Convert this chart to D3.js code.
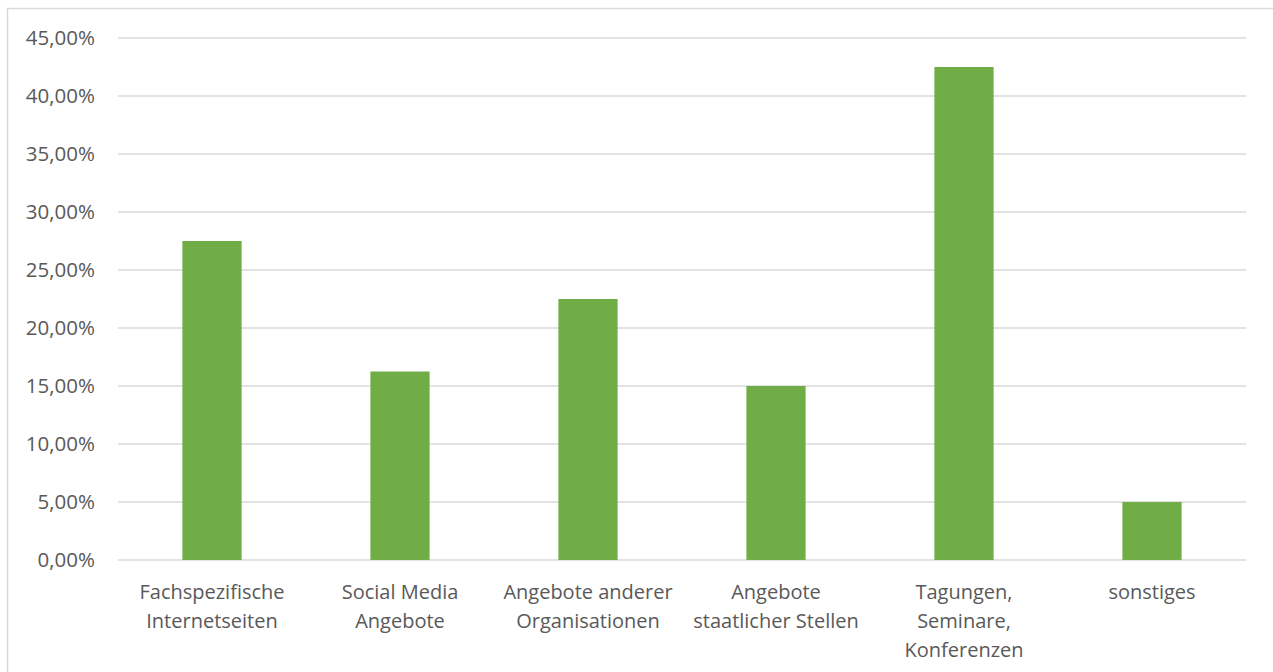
<!DOCTYPE html>
<html><head><meta charset="utf-8">
<script src="https://cdn.jsdelivr.net/npm/d3@7"></script>
<style>
html,body{margin:0;padding:0;background:#fff;}
svg{display:block;}
text{font-family:"Open Sans","Noto Sans",sans-serif;fill:#595959;}
</style></head>
<body><svg id="c" width="1273" height="672"></svg>
<script>
const categories = [
  "Fachspezifische\nInternetseiten",
  "Social Media\nAngebote",
  "Angebote anderer\nOrganisationen",
  "Angebote\nstaatlicher Stellen",
  "Tagungen,\nSeminare,\nKonferenzen",
  "sonstiges"
];
const values = [0.275, 0.1625, 0.225, 0.15, 0.425, 0.05];
const yTicks = [0, 0.05, 0.10, 0.15, 0.20, 0.25, 0.30, 0.35, 0.40, 0.45];

const svg = d3.select("#c");
const W = 1273, H = 672;
const m = {left:118, right:27, top:38, bottom:112};

svg.append("rect").attr("x",7.5).attr("y",8.5).attr("width",W).attr("height",H)
  .attr("fill","#fff").attr("stroke","#d9d9d9").attr("stroke-width",1.5);

const x = d3.scaleBand().domain(categories).range([m.left, W - m.right]).paddingInner(0.685).paddingOuter(0.3425);
const y = d3.scaleLinear().domain([0, 0.45]).range([H - m.bottom, m.top]);

const fmt = v => d3.format(".2f")(v*100).replace(".", ",") + "%";

// gridlines
svg.append("g").selectAll("line").data(yTicks).join("line")
  .attr("x1", m.left).attr("x2", W - m.right)
  .attr("y1", d => y(d)).attr("y2", d => y(d))
  .attr("stroke","#d9d9d9").attr("stroke-width",1.5);

// y axis labels
const yAxis = d3.axisLeft(y).tickValues(yTicks).tickFormat(fmt).tickSize(0).tickPadding(23);
const ga = svg.append("g").attr("transform",`translate(${m.left},0)`).call(yAxis);
ga.select(".domain").remove();
ga.selectAll("text").style("font-size","20.5px").attr("fill","#595959");

// bars
svg.append("g").selectAll("rect").data(values).join("rect")
  .attr("x",(d,i)=>x(categories[i]))
  .attr("width", x.bandwidth())
  .attr("y", d=>y(d))
  .attr("height", d=>y(0)-y(d))
  .attr("fill","#70ad47");

// x labels
const xl = svg.append("g").selectAll("text").data(categories).join("text")
  .attr("text-anchor","middle")
  .attr("x", d=>x(d)+x.bandwidth()/2)
  .attr("y", y(0)+39)
  .style("font-size","20px");
xl.each(function(d){
  const lines = d.split("\n");
  const t = d3.select(this);
  lines.forEach((ln,i)=>{
    t.append("tspan").attr("x", x(d)+x.bandwidth()/2).attr("dy", i===0?0:28.8).text(ln);
  });
});
</script></body></html>
